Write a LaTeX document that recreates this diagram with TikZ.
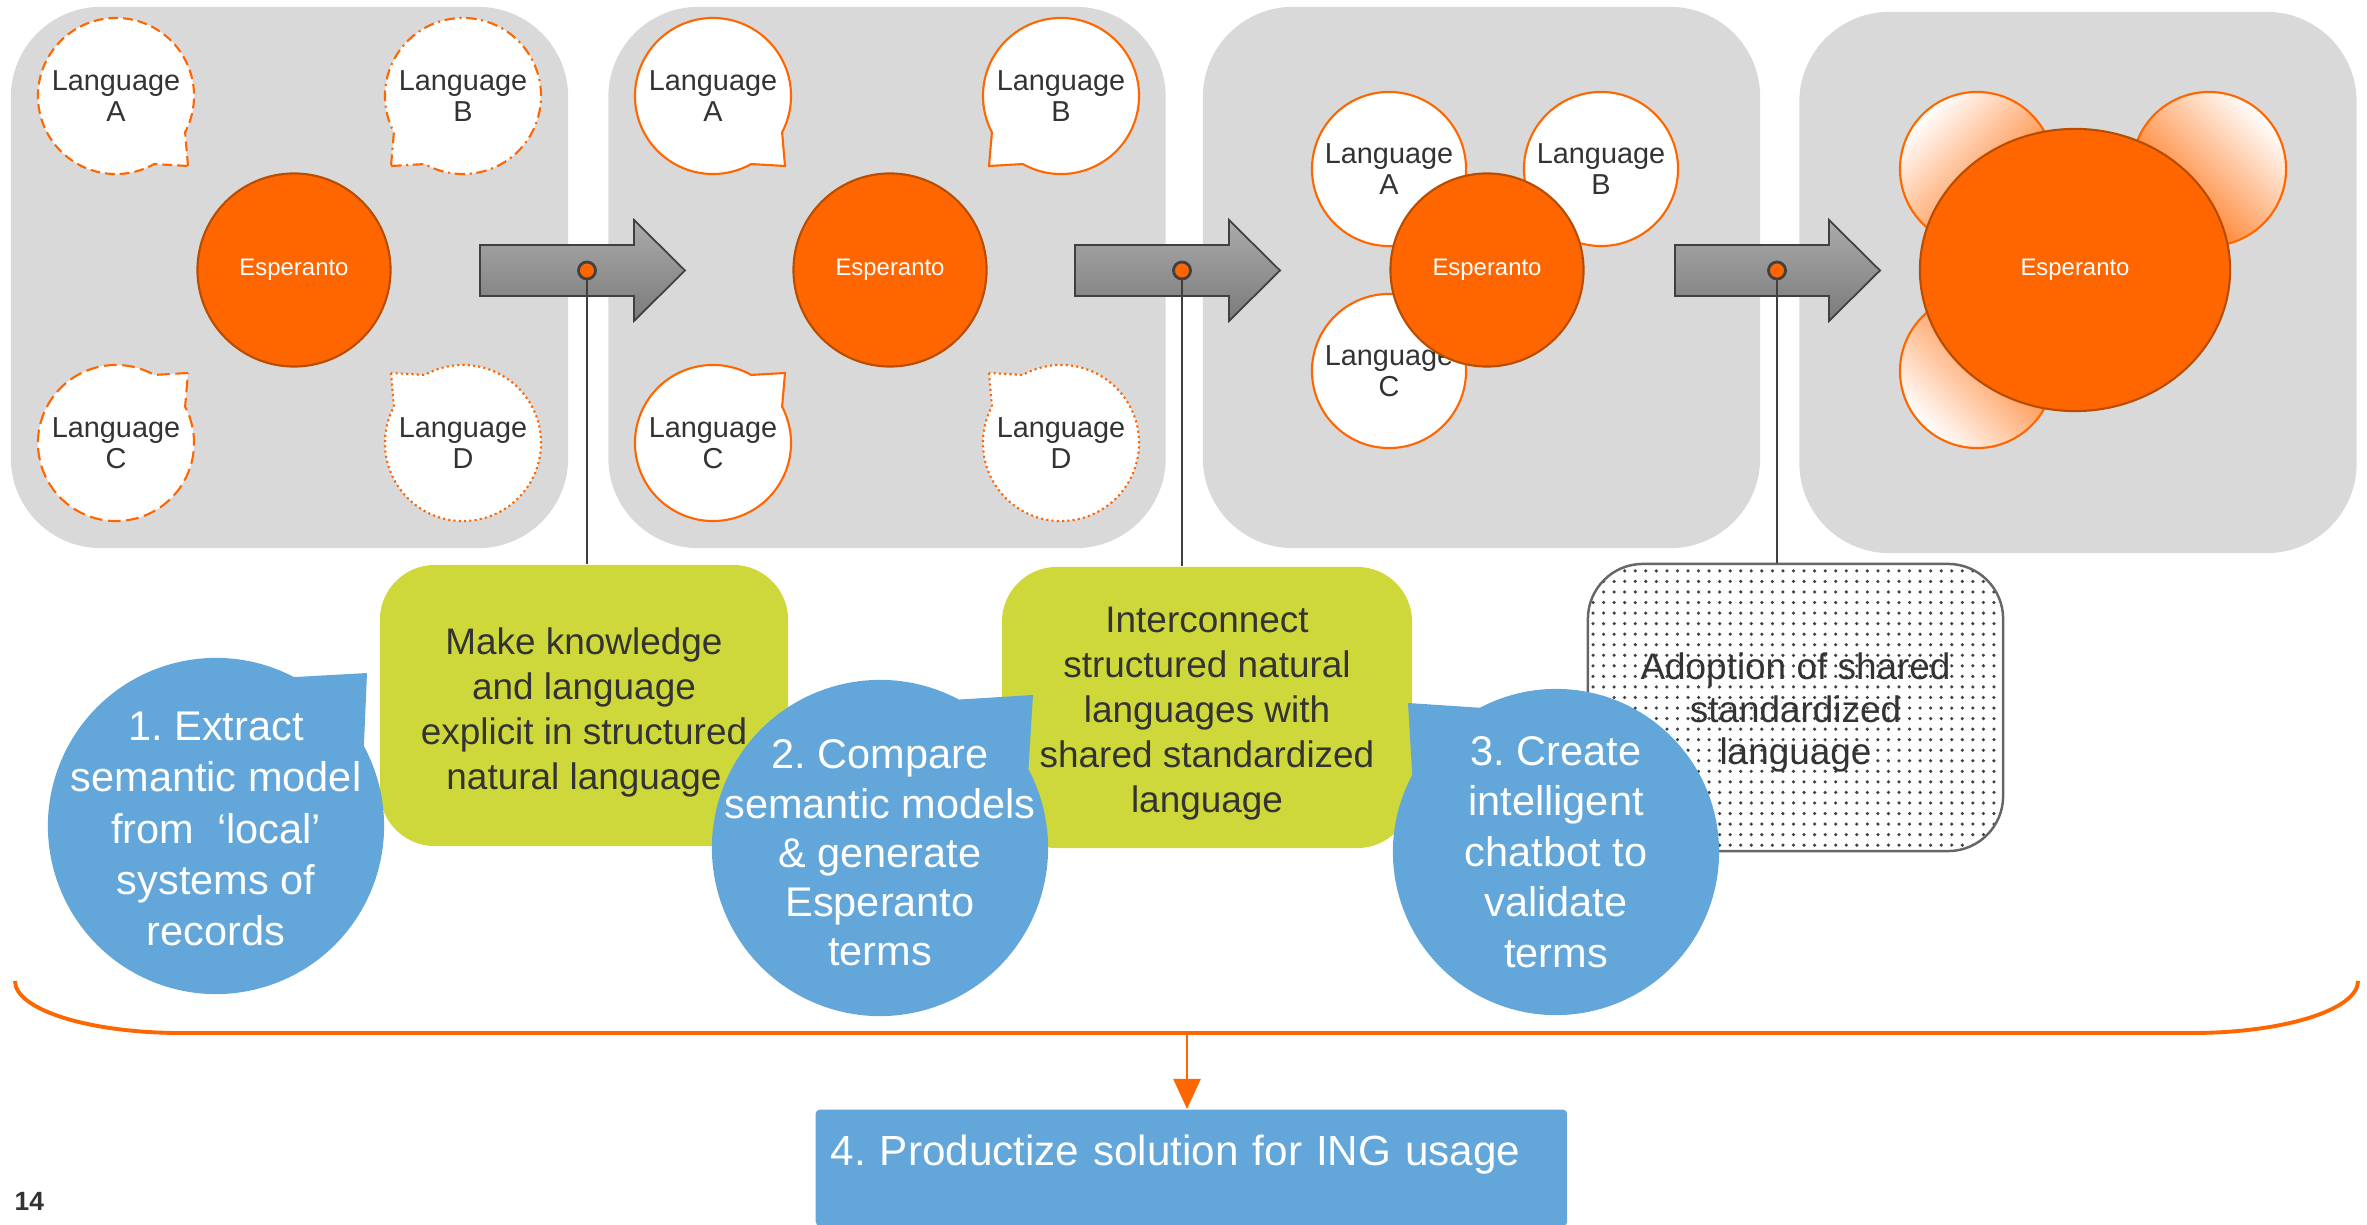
\documentclass[tikz,border=0pt]{standalone}
\usepackage{fontspec}
\setmainfont{Liberation Sans}
\usetikzlibrary{shapes.callouts,shapes.geometric,patterns,arrows.meta}
\definecolor{ingorange}{HTML}{FF6600}
\definecolor{espborder}{HTML}{B84C00}
\definecolor{panelgray}{HTML}{D9D9D9}
\definecolor{stepgreen}{HTML}{CFD83B}
\definecolor{stepblue}{HTML}{62A6DA}
\definecolor{darktext}{HTML}{333333}
\definecolor{arrowedge}{HTML}{404040}
\frenchspacing
\tikzset{
  panel/.style={fill=panelgray, rounded corners=0.9cm, minimum width=5.57cm,
    minimum height=5.41cm, inner sep=0pt},
  esperanto/.style={circle, fill=ingorange, draw=espborder, line width=0.6pt,
    text=white, font=\fontsize{6.8}{8}\selectfont, minimum size=1.93cm, inner sep=0pt},
  langbubble/.style={ellipse callout, fill=white, draw=ingorange, line width=0.6pt,
    minimum width=1.56cm, minimum height=1.56cm, inner sep=0pt, callout pointer arc=33},
  langtext/.style={text=darktext, align=center, inner sep=0pt,
    font=\fontsize{8.2}{8.8}\selectfont},
  langcircle/.style={circle, fill=white, draw=ingorange, line width=0.6pt,
    minimum size=1.54cm, inner sep=0pt, langtext},
  fadecircle/.style={circle, draw=ingorange, line width=0.6pt, minimum size=1.54cm,
    inner sep=0pt, top color=white, bottom color=ingorange, shading angle=#1},
  longdash/.style={dash pattern=on 2.8pt off 1.4pt},
  dashdot/.style={dash pattern=on 3pt off 1.3pt on 0.6pt off 1.3pt},
  loosedash/.style={dash pattern=on 3.6pt off 1.6pt},
  finedot/.style={dash pattern=on 0.6pt off 0.9pt},
  blockarrow/.style={draw=arrowedge, line width=0.5pt, top color=black!33,
    bottom color=black!52},
  dot/.style={circle, fill=ingorange, draw=arrowedge, line width=0.8pt,
    minimum size=0.17cm, inner sep=0pt},
  link/.style={draw=arrowedge, line width=0.7pt},
  stepbox/.style={rounded corners=0.55cm, fill=stepgreen, inner sep=0pt},
  steptext/.style={text=darktext, align=center, inner sep=0pt,
    font=\fontsize{10.5}{12.8}\selectfont},
  adoptbox/.style={rounded corners=0.55cm, draw=black!60, line width=0.7pt,
    pattern=dots, pattern color=black!75, inner sep=0pt},
  bubble/.style={ellipse callout, fill=stepblue, inner sep=0pt, callout pointer arc=34},
  bubbletext/.style={text=white, align=center, inner sep=0pt,
    font=\fontsize{11.8}{#1}\selectfont},
  brace/.style={draw=ingorange, line width=1.1pt},
  downarrow/.style={draw=ingorange, line width=0.7pt,
    -{Triangle[length=0.3cm, width=0.27cm]}},
  prodbox/.style={fill=stepblue, rounded corners=0.04cm, text=white, align=left,
    inner xsep=0.15cm, inner ysep=0pt, text width=7.21cm, text height=0.56cm,
    text depth=0.6cm, font=\fontsize{12}{14}\selectfont}
}
\begin{document}
\begin{tikzpicture}[x=0.01cm, y=-0.01cm]
  \useasboundingbox (0,0) rectangle (2367,1225);
  \node[panel] (p1) at (289.5,277.5) {};
  \node[panel] (p2) at (887,277.5) {};
  \node[panel] (p3) at (1481.5,277.5) {};
  \node[panel] (p4) at (2078,282.5) {};
  \foreach \x in {480,1075,1675}{
    \draw[blockarrow] (\x,245) -- (\x+154,245) -- (\x+154,220) -- (\x+205,270.5)
      -- (\x+154,321) -- (\x+154,296) -- (\x,296) -- cycle;
  }
  \foreach \x/\n in {587/1,1182/2,1777/3}{
    \node[dot] (dot\n) at (\x,270.5) {};
  }
  % panel 1
  \node[langbubble, longdash, callout absolute pointer={(188,166)}] (a1) at (116,96) {};
  \node[langtext] (a1t) at (a1) {Language\\A};
  \node[langbubble, dashdot, callout absolute pointer={(391,166)}] (b1) at (463,96) {};
  \node[langtext] (b1t) at (b1) {Language\\B};
  \node[langbubble, loosedash, callout absolute pointer={(188,373)}] (c1) at (116,443) {};
  \node[langtext] (c1t) at (c1) {Language\\C};
  \node[langbubble, finedot, callout absolute pointer={(391,373)}] (d1) at (463,443) {};
  \node[langtext] (d1t) at (d1) {Language\\D};
  \node[esperanto] (e1) at (294,270) {Esperanto};
  % panel 2
  \node[langbubble, callout absolute pointer={(785,166)}] (a2) at (713,96) {};
  \node[langtext] (a2t) at (a2) {Language\\A};
  \node[langbubble, callout absolute pointer={(989,166)}] (b2) at (1061,96) {};
  \node[langtext] (b2t) at (b2) {Language\\B};
  \node[langbubble, callout absolute pointer={(785,373)}] (c2) at (713,443) {};
  \node[langtext] (c2t) at (c2) {Language\\C};
  \node[langbubble, finedot, callout absolute pointer={(989,373)}] (d2) at (1061,443) {};
  \node[langtext] (d2t) at (d2) {Language\\D};
  \node[esperanto] (e2) at (890,270) {Esperanto};
  % panel 3
  \node[langcircle] (a3) at (1389,169) {Language\\A};
  \node[langcircle] (b3) at (1601,169) {Language\\B};
  \node[langcircle] (c3) at (1389,371) {Language\\C};
  \node[esperanto] (e3) at (1487,270) {Esperanto};
  % panel 4
  \node[fadecircle=45] (a4) at (1977,169) {};
  \node[fadecircle=-45] (b4) at (2209,169) {};
  \node[fadecircle=135] (c4) at (1977,371) {};
  \node[esperanto, ellipse, minimum width=3.1cm, minimum height=2.82cm] (e4) at (2075,270) {Esperanto};
  % steps
  \node[stepbox, minimum width=4.08cm, minimum height=2.81cm] (make) at (584,705.5) {};
  \node[steptext] (maket) at ([yshift=-0.07cm]make.center)
    {Make knowledge\\and language\\explicit in structured\\natural language};
  \node[stepbox, minimum width=4.1cm, minimum height=2.81cm] (interconnect) at (1207,707.5) {};
  \node[steptext] (interconnectt) at ([yshift=-0.06cm]interconnect.center)
    {Interconnect\\structured natural\\languages with\\shared standardized\\language};
  \node[adoptbox, minimum width=4.15cm, minimum height=2.87cm] (adoption) at (1795.5,707.5) {};
  \node[steptext, font=\fontsize{10.5}{12.2}\selectfont] (adoptiont) at ([yshift=-0.05cm]adoption.center)
    {Adoption of shared\\standardized\\language};
  \draw[link] (dot1.south) -- (dot1.south |- make.north);
  \draw[link] (dot2.south) -- (dot2.south |- interconnect.north);
  \draw[link] (dot3.south) -- (dot3.south |- adoption.north);
  \node[bubble, minimum size=3.36cm, callout absolute pointer={(367,673)}] (extract) at (216,826) {};
  \node[bubbletext=14.6pt] (extractt) at ([yshift=-0.03cm]extract.center)
    {1. Extract\\semantic model\\from~ ‘local’\\systems of\\records};
  \node[bubble, minimum size=3.36cm, callout absolute pointer={(1033,695)}] (compare) at (880,848) {};
  \node[bubbletext=14pt] (comparet) at ([yshift=-0.05cm]compare.center)
    {2. Compare\\semantic models\\\& generate\\Esperanto\\terms};
  \node[bubble, minimum size=3.26cm, callout absolute pointer={(1408,703)}] (chatbot) at (1556,852) {};
  \node[bubbletext=14.4pt] (chatbott) at (chatbot)
    {3. Create\\intelligent\\chatbot to\\validate\\terms};
  % brace and outcome
  \draw[brace] (15,981) arc[start angle=180, end angle=90, x radius=166, y radius=52]
    -- (2192,1033) arc[start angle=90, end angle=0, x radius=166, y radius=52];
  \coordinate (bracemid) at (1187,1033);
  \node[prodbox, anchor=north west] (productize) at (815,1109) {4. Productize solution for ING usage};
  \draw[downarrow] (bracemid) -- (bracemid |- productize.north);
  \node[anchor=base west, text=darktext, inner sep=0pt, font=\fontsize{7.5}{9}\selectfont\bfseries] (pagenum) at (14,1210) {14};
\end{tikzpicture}
\end{document}
